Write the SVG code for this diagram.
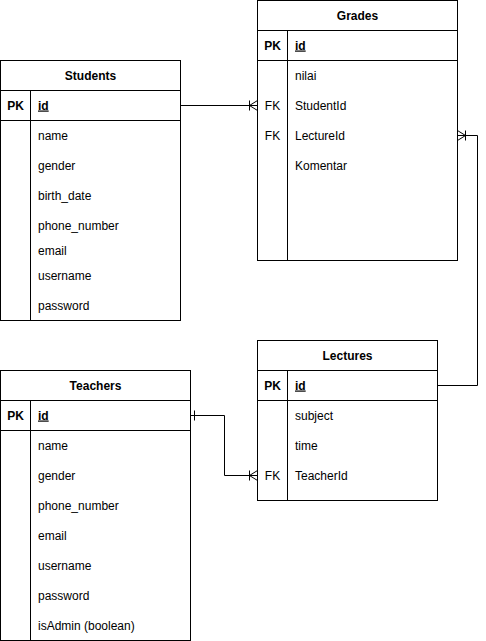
<svg xmlns="http://www.w3.org/2000/svg" width="486" height="641" viewBox="0 0 486 641">
<style>
  .box { fill: #ffffff; stroke: #000000; stroke-width: 1; }
  .ln { stroke: #000000; stroke-width: 1; fill: none; }
  text { font-family: "Liberation Sans", Arial, sans-serif; font-size: 12px; fill: #000000; }
  .title { font-weight: bold; text-anchor: middle; }
  .key { font-weight: bold; text-anchor: middle; }
  .pk { font-weight: bold; text-decoration: underline; }
  .fk { text-anchor: middle; }
  .edge { stroke: #000000; stroke-width: 1; fill: none; }
</style>
<rect width="486" height="641" fill="#ffffff"/>

<g id="students">
  <rect class="box" x="0.5" y="60.5" width="180" height="260"/>
  <line class="ln" x1="0.5" y1="90.5" x2="180.5" y2="90.5"/>
  <line class="ln" x1="0.5" y1="120.5" x2="180.5" y2="120.5"/>
  <line class="ln" x1="30.5" y1="90.5" x2="30.5" y2="320.5"/>
  <text class="title" x="90.5" y="79.5">Students</text>
  <text class="key" x="15.5" y="109.5">PK</text>
  <text class="pk" x="38" y="109.5">id</text>
  <text x="38" y="139.5">name</text>
  <text x="38" y="169.5">gender</text>
  <text x="38" y="199.5">birth_date</text>
  <text x="38" y="229.5">phone_number</text>
  <text x="38" y="254.5">email</text>
  <text x="38" y="279.5">username</text>
  <text x="38" y="309.5">password</text>
</g>

<g id="grades">
  <rect class="box" x="257.5" y="0.5" width="200" height="260"/>
  <line class="ln" x1="257.5" y1="30.5" x2="457.5" y2="30.5"/>
  <line class="ln" x1="257.5" y1="60.5" x2="457.5" y2="60.5"/>
  <line class="ln" x1="287.5" y1="30.5" x2="287.5" y2="260.5"/>
  <text class="title" x="357.5" y="19.5">Grades</text>
  <text class="key" x="272.5" y="49.5">PK</text>
  <text class="pk" x="295" y="49.5">id</text>
  <text x="295" y="79.5">nilai</text>
  <text class="fk" x="272.5" y="109.5">FK</text>
  <text x="295" y="109.5">StudentId</text>
  <text class="fk" x="272.5" y="139.5">FK</text>
  <text x="295" y="139.5">LectureId</text>
  <text x="295" y="169.5">Komentar</text>
</g>

<g id="lectures">
  <rect class="box" x="257.5" y="340.5" width="180" height="160"/>
  <line class="ln" x1="257.5" y1="370.5" x2="437.5" y2="370.5"/>
  <line class="ln" x1="257.5" y1="400.5" x2="437.5" y2="400.5"/>
  <line class="ln" x1="287.5" y1="370.5" x2="287.5" y2="500.5"/>
  <text class="title" x="347.5" y="359.5">Lectures</text>
  <text class="key" x="272.5" y="389.5">PK</text>
  <text class="pk" x="295" y="389.5">id</text>
  <text x="295" y="419.5">subject</text>
  <text x="295" y="449.5">time</text>
  <text class="fk" x="272.5" y="479.5">FK</text>
  <text x="295" y="479.5">TeacherId</text>
</g>

<g id="teachers">
  <rect class="box" x="0.5" y="370.5" width="190" height="270"/>
  <line class="ln" x1="0.5" y1="400.5" x2="190.5" y2="400.5"/>
  <line class="ln" x1="0.5" y1="430.5" x2="190.5" y2="430.5"/>
  <line class="ln" x1="30.5" y1="400.5" x2="30.5" y2="640.5"/>
  <text class="title" x="95.5" y="389.5">Teachers</text>
  <text class="key" x="15.5" y="419.5">PK</text>
  <text class="pk" x="38" y="419.5">id</text>
  <text x="38" y="449.5">name</text>
  <text x="38" y="479.5">gender</text>
  <text x="38" y="509.5">phone_number</text>
  <text x="38" y="539.5">email</text>
  <text x="38" y="569.5">username</text>
  <text x="38" y="599.5">password</text>
  <text x="38" y="629.5">isAdmin (boolean)</text>
</g>

<g id="connectors">
  <!-- Students.id to Grades.StudentId (one to many) -->
  <path class="edge" d="M180.5 105.5 H257.5"/>
  <path class="edge" d="M249.5 100.5 V110.5 M249.5 105.5 L257.5 100.5 M249.5 105.5 L257.5 110.5"/>
  <!-- Lectures.id to Grades.LectureId (one to many) -->
  <path class="edge" d="M437.5 385.5 H477.5 V135.5 H457.5"/>
  <path class="edge" d="M465.5 130.5 V140.5 M465.5 135.5 L457.5 130.5 M465.5 135.5 L457.5 140.5"/>
  <!-- Teachers.id to Lectures.TeacherId (one to many) -->
  <path class="edge" d="M190.5 415.5 H224.5 V475.5 H257.5"/>
  <path class="edge" d="M194.5 410.5 V420.5"/>
  <path class="edge" d="M249.5 470.5 V480.5 M249.5 475.5 L257.5 470.5 M249.5 475.5 L257.5 480.5"/>
</g>
</svg>
